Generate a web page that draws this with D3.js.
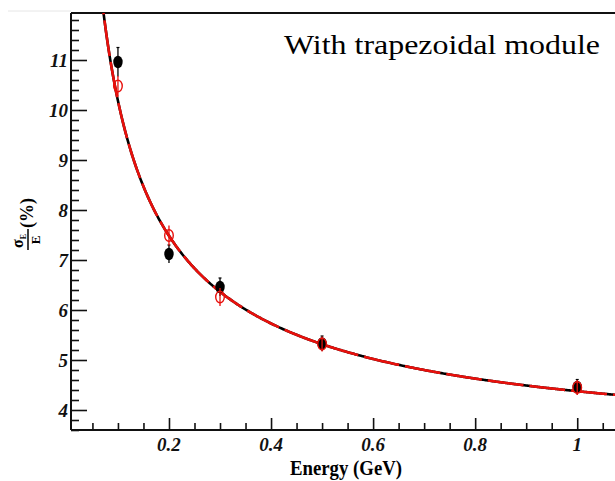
<!DOCTYPE html>
<html>
<head>
<meta charset="utf-8">
<script src="https://cdn.jsdelivr.net/npm/d3@7"></script>
<style>
  html, body { margin: 0; padding: 0; background: #fff; }
  svg { display: block; }
  text { font-family: "Liberation Serif", "Times New Roman", serif; }
</style>
</head>
<body>
<svg id="chart" width="615" height="481"></svg>
<script>
// Beam energies (GeV)
const energies = [0.1, 0.2, 0.3, 0.5, 1.0];

// Energy resolution sigma_E/E (%), filled markers
const resFilled = [10.96, 7.12, 6.46, 5.33, 4.46];
const errFilled = [0.29, 0.18, 0.18, 0.15, 0.15];

// Energy resolution sigma_E/E (%), open markers
const resOpen = [10.48, 7.49, 6.26, 5.32, 4.45];
const errOpen = [0.20, 0.20, 0.18, 0.15, 0.15];

// Fit parameters: stochastic (%·√GeV), constant (%), noise (%·GeV)
const fitFilled = [3.0, 3.18, 0.19];
const fitOpen = [3.0, 3.18, 0.19];

const xTickValues = [0.2, 0.4, 0.6, 0.8, 1];
const xTickLabels = ["0.2", "0.4", "0.6", "0.8", "1"];
const yTickValues = [4, 5, 6, 7, 8, 9, 10, 11];

const svg = d3.select("#chart");

const plot = { left: 71, right: 615.5, top: 13, bottom: 430 };

const x = d3.scaleLinear().domain([0.008, 1.075]).range([plot.left, plot.right]);
const y = d3.scaleLinear().domain([3.6, 11.94]).range([plot.bottom, plot.top]);

// resolution function: a/sqrt(E) (+) b (+) c/E
const resolution = (p, e) => Math.sqrt((p[0] * p[0]) / e + p[1] * p[1] + (p[2] * p[2]) / (e * e));

svg.append("defs").append("clipPath").attr("id", "plotClip")
  .append("rect")
  .attr("x", plot.left).attr("y", plot.top)
  .attr("width", plot.right - plot.left).attr("height", plot.bottom - plot.top);

// faint frame edge left of the pad
svg.append("line")
  .attr("x1", 8).attr("x2", plot.left).attr("y1", 11).attr("y2", 11)
  .attr("stroke", "#e6e6e6").attr("stroke-width", 1);

// ---- axes ----
const xMinor = d3.range(0.05, 1.0751, 0.05).filter(v => Math.abs(v * 5 - Math.round(v * 5)) > 1e-6);
const yMinor = d3.range(3.6, 11.95, 0.2).filter(v => Math.abs(v - Math.round(v)) > 1e-6);

const xAxisG = svg.append("g").attr("transform", `translate(0,${plot.bottom})`);
xAxisG.call(d3.axisTop(x).tickValues(xMinor).tickSize(7).tickFormat(""));
xAxisG.call(g => g.select(".domain").remove());
const xMajor = svg.append("g").attr("transform", `translate(0,${plot.bottom})`)
  .call(d3.axisTop(x).tickValues(xTickValues).tickSize(12).tickFormat(""));
xMajor.select(".domain").remove();

const yAxisMinor = svg.append("g").attr("transform", `translate(${plot.left},0)`)
  .call(d3.axisRight(y).tickValues(yMinor).tickSize(8).tickFormat(""));
yAxisMinor.select(".domain").remove();
const yAxisMajor = svg.append("g").attr("transform", `translate(${plot.left},0)`)
  .call(d3.axisRight(y).tickValues(yTickValues).tickSize(16).tickFormat(""));
yAxisMajor.select(".domain").remove();
svg.selectAll(".tick line").attr("stroke", "#111").attr("stroke-width", 1.6);

svg.append("g").selectAll("text").data(xTickValues).join("text")
  .attr("x", d => x(d)).attr("y", 451)
  .attr("text-anchor", "middle")
  .attr("font-size", 19).attr("font-weight", "bold").attr("font-style", "italic")
  .attr("fill", "#111")
  .text((d, i) => xTickLabels[i]);

svg.append("g").selectAll("text").data(yTickValues).join("text")
  .attr("x", 68).attr("y", d => y(d) + 6.5)
  .attr("text-anchor", "end")
  .attr("font-size", 19).attr("font-weight", "bold").attr("font-style", "italic")
  .attr("fill", "#111")
  .text(d => d3.format("d")(d));

// axis lines and top frame
svg.append("line").attr("x1", plot.left).attr("x2", plot.right)
  .attr("y1", plot.bottom).attr("y2", plot.bottom)
  .attr("stroke", "#111").attr("stroke-width", 2);
svg.append("line").attr("x1", plot.left).attr("x2", plot.left)
  .attr("y1", plot.top).attr("y2", plot.bottom)
  .attr("stroke", "#111").attr("stroke-width", 2);
svg.append("line").attr("x1", plot.left).attr("x2", plot.right)
  .attr("y1", plot.top).attr("y2", plot.top)
  .attr("stroke", "#111").attr("stroke-width", 2);

// ---- fit curves ----
const curveE = d3.range(0.05, 1.08, 0.002);
const line = d3.line().x(d => x(d[0])).y(d => y(d[1])).curve(d3.curveMonotoneX);
const plotArea = svg.append("g").attr("clip-path", "url(#plotClip)");

plotArea.append("path")
  .datum(curveE.map(e => [e, resolution(fitFilled, e)]))
  .attr("d", line).attr("fill", "none")
  .attr("stroke", "#000").attr("stroke-width", 2.6);
plotArea.append("path")
  .datum(curveE.map(e => [e, resolution(fitOpen, e)]))
  .attr("d", line).attr("fill", "none")
  .attr("stroke", "#e8100c").attr("stroke-width", 2.6)
  .attr("stroke-dasharray", "36,6");

// ---- data points ----
const filled = energies.map((e, i) => ({ e, v: resFilled[i], err: errFilled[i] }));
const open = energies.map((e, i) => ({ e, v: resOpen[i], err: errOpen[i] }));

const gF = svg.append("g");
gF.selectAll("line.err").data(filled).join("line")
  .attr("x1", d => x(d.e)).attr("x2", d => x(d.e))
  .attr("y1", d => y(d.v + d.err)).attr("y2", d => y(d.v - d.err))
  .attr("stroke", "#000").attr("stroke-width", 1.3);
gF.selectAll("line.cap").data(filled).join("line")
  .attr("x1", d => x(d.e) - 1.5).attr("x2", d => x(d.e) + 1.5)
  .attr("y1", d => y(d.v + d.err)).attr("y2", d => y(d.v + d.err))
  .attr("stroke", "#000").attr("stroke-width", 1.2);
gF.selectAll("ellipse").data(filled).join("ellipse")
  .attr("cx", d => x(d.e)).attr("cy", d => y(d.v))
  .attr("rx", 4.7).attr("ry", 6.2)
  .attr("fill", "#000");

const gO = svg.append("g");
gO.selectAll("line").data(open).join("line")
  .attr("x1", d => x(d.e)).attr("x2", d => x(d.e))
  .attr("y1", d => y(d.v + d.err)).attr("y2", d => y(d.v - d.err))
  .attr("stroke", "#e8100c").attr("stroke-width", 1.3);
gO.selectAll("ellipse").data(open).join("ellipse")
  .attr("cx", d => x(d.e)).attr("cy", d => y(d.v))
  .attr("rx", 4.3).attr("ry", 5.8)
  .attr("fill", "none").attr("stroke", "#e8100c").attr("stroke-width", 1.4);

// ---- labels ----
svg.append("text")
  .attr("x", 284).attr("y", 54)
  .attr("font-size", 28).attr("fill", "#000")
  .attr("textLength", 316).attr("lengthAdjust", "spacingAndGlyphs")
  .text("With trapezoidal module");

svg.append("text")
  .attr("x", 346).attr("y", 475)
  .attr("text-anchor", "middle")
  .attr("font-size", 21).attr("font-weight", "bold").attr("fill", "#000")
  .attr("textLength", 112).attr("lengthAdjust", "spacingAndGlyphs")
  .text("Energy (GeV)");

// y title: sigma_E / E (%) as a rotated fraction
const yt = svg.append("g").attr("transform", "translate(28,240) rotate(-90)");
yt.append("line").attr("x1", -10).attr("x2", 11).attr("y1", 0).attr("y2", 0)
  .attr("stroke", "#000").attr("stroke-width", 1.5);
const num = yt.append("text").attr("x", -8).attr("y", -5)
  .attr("font-size", 16).attr("font-weight", "bold").attr("fill", "#000");
num.append("tspan").text("σ");
num.append("tspan").attr("font-size", 8).attr("dy", 3).text("E");
yt.append("text").attr("x", 0).attr("y", 12)
  .attr("text-anchor", "middle")
  .attr("font-size", 13).attr("font-weight", "bold").attr("fill", "#000")
  .text("E");
yt.append("text").attr("x", 12).attr("y", 5)
  .attr("font-size", 18).attr("font-weight", "bold").attr("fill", "#000")
  .text("(%)");
</script>
</body>
</html>
